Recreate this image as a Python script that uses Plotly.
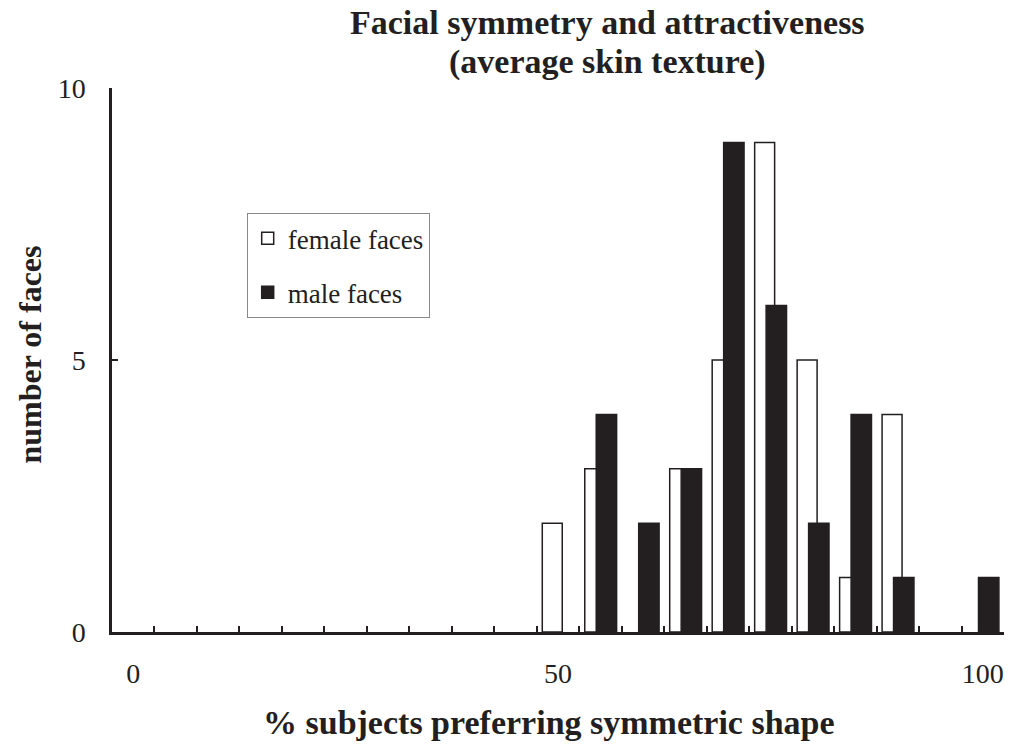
import plotly.graph_objects as go

# Histogram bins (% of subjects preferring the symmetric shape)
bins = [str(v) for v in range(0, 101, 5)]
bin_labels = ["0" if b == "0" else "50" if b == "50" else "100" if b == "100" else "" for b in bins]

# Number of faces per bin
female_counts = [0, 0, 0, 0, 0, 0, 0, 0, 0, 0, 2, 3, 0, 3, 5, 9, 5, 1, 4, 0, 0]
male_counts = [0, 0, 0, 0, 0, 0, 0, 0, 0, 0, 0, 4, 2, 3, 9, 6, 2, 4, 1, 0, 1]

title_lines = ["Facial symmetry and attractiveness", "(average skin texture)"]

INK = "#231f20"
SERIF = "Liberation Serif"


def nonzero(counts):
    # empty bins get no bar at all
    return [c if c else None for c in counts]


fig = go.Figure()
fig.add_trace(go.Bar(
    x=bins, y=nonzero(female_counts), name="female faces",
    offset=-0.37, width=0.47,
    marker=dict(color="white", line=dict(color=INK, width=1.5)),
    legendgroup="f",
))
fig.add_trace(go.Bar(
    x=bins, y=nonzero(male_counts), name="male faces",
    offset=-0.10, width=0.48,
    marker=dict(color=INK, line=dict(color=INK, width=1.5)),
    legendgroup="m",
))

title_font = dict(family=SERIF, size=34, color=INK, weight="bold")

fig.update_layout(
    width=1011, height=744,
    margin=dict(l=112, r=7, t=88, b=112, autoexpand=False),
    paper_bgcolor="white", plot_bgcolor="white",
    barmode="overlay",
    font=dict(family=SERIF, color=INK),
    showlegend=True,
    legend=dict(
        x=0.151, y=0.77, xanchor="left", yanchor="top",
        bordercolor="#888888", borderwidth=1, bgcolor="white",
        font=dict(family=SERIF, size=27, color=INK),
        tracegroupgap=16,
    ),
    xaxis=dict(
        type="category", categoryorder="array", categoryarray=bins,
        range=[-0.5, len(bins) - 0.5],
        tickmode="array", tickvals=bins, ticktext=bin_labels, tickangle=0,
        tickson="boundaries", ticks="inside", ticklen=6, tickwidth=1.5, tickcolor=INK,
        showline=True, linecolor=INK, linewidth=2.5,
        showgrid=False, zeroline=False, automargin=False,
        tickfont=dict(family=SERIF, size=28, color=INK),
        ticklabelstandoff=15,
    ),
    yaxis=dict(
        range=[0, 10], tickvals=[0, 5, 10],
        ticks="inside", ticklen=6, tickwidth=1.5, tickcolor=INK,
        showline=True, linecolor=INK, linewidth=2.5,
        showgrid=False, zeroline=False, automargin=False,
        tickfont=dict(family=SERIF, size=28, color=INK),
        ticklabelstandoff=18,
    ),
    annotations=[
        dict(text=title_lines[0],
             xref="paper", yref="paper", x=0.555, y=1.0, yshift=66,
             xanchor="center", yanchor="middle", showarrow=False,
             font=title_font),
        dict(text=title_lines[1],
             xref="paper", yref="paper", x=0.555, y=1.0, yshift=26,
             xanchor="center", yanchor="middle", showarrow=False,
             font=title_font),
        dict(text="% subjects preferring symmetric shape",
             xref="paper", yref="paper", x=0.49, y=0, yshift=-90,
             xanchor="center", yanchor="middle", showarrow=False,
             font=title_font),
        dict(text="number of faces", textangle=-90,
             xref="paper", yref="paper", x=0, xshift=-82, y=0.51,
             xanchor="center", yanchor="middle", showarrow=False,
             font=dict(family=SERIF, size=32, color=INK, weight="bold")),
    ],
)

fig.write_html("out.html")
